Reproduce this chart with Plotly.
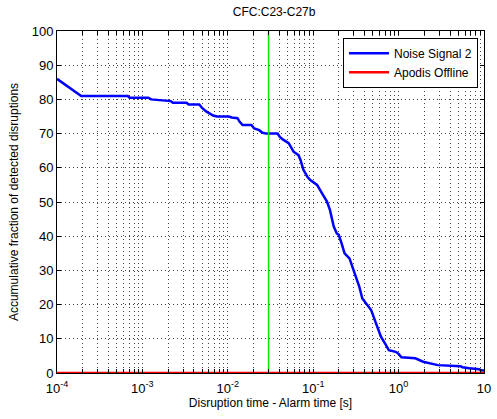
import plotly.graph_objects as go

title_text = "CFC:C23-C27b"
x_label = "Disruption time - Alarm time [s]"
y_label = "Accumulative fraction of detected disruptions"

noise_x = [1e-4, 1.92e-4, 6.73e-4, 7.1e-4, 1.17e-3, 1.27e-3, 2.15e-3, 2.27e-3, 3.29e-3, 3.47e-3,
           4.64e-3, 5.0e-3, 5.58e-3, 6.05e-3, 6.73e-3, 7.48e-3, 1.03e-2, 1.11e-2, 1.30e-2, 1.37e-2,
           1.49e-2, 1.89e-2, 2.04e-2, 2.33e-2, 2.52e-2, 2.8e-2, 3.83e-2, 4.07e-2, 4.4e-2, 5.16e-2,
           5.89e-2, 6.73e-2, 7.1e-2, 7.68e-2, 8.54e-2, 9.24e-2, 0.1, 0.111, 0.127, 0.145,
           0.157, 0.174, 0.189, 0.199, 0.215, 0.233, 0.266, 0.304, 0.347, 0.376,
           0.429, 0.477, 0.544, 0.621, 0.709, 0.768, 0.924, 1.0, 1.08, 1.57,
           1.94, 2.88, 5.3, 5.58, 6.73, 8.77, 9.5, 10]
noise_y = [86, 81, 81, 80.5, 80.5, 80, 79.5, 79, 79, 78.5,
           78.5, 77.5, 76.5, 76, 75.3, 75, 75, 74.7, 74.5, 73.5,
           72.5, 72.5, 71.5, 71, 70.3, 70, 70, 69, 68.3, 67.2,
           64.7, 63.7, 62.3, 59.4, 57.4, 56.4, 55.8, 55, 52.5, 50.1,
           47.7, 42.8, 40.8, 40.4, 37.9, 35, 33.5, 29.6, 25.2, 21.8,
           19.9, 18.4, 14.5, 10.6, 8.2, 6.7, 6.2, 5.6, 4.6, 4.3,
           3.3, 2.3, 2.0, 1.7, 1.4, 1.1, 0.7, 0.7]

apodis_x = [1e-4, 10]
apodis_y = [0, 0]

threshold_x = 0.03
y_ticks = [0, 10, 20, 30, 40, 50, 60, 70, 80, 90, 100]
x_major = [1e-4, 1e-3, 1e-2, 1e-1, 1, 10]
x_major_text = ["10<sup>-4</sup>", "10<sup>-3</sup>", "10<sup>-2</sup>", "10<sup>-1</sup>", "10<sup>0</sup>", "10"]

# all decade ticks (major + minor) for the log grid
x_ticks = []
x_text = []
for i, m in enumerate(x_major[:-1]):
    for k in range(1, 10):
        x_ticks.append(m * k)
        x_text.append(x_major_text[i] if k == 1 else "")
x_ticks.append(x_major[-1] * 0.9999)
x_text.append(x_major_text[-1])

fig = go.Figure()
fig.add_trace(go.Scatter(x=noise_x, y=noise_y, mode="lines", name="Noise Signal 2",
                         line=dict(color="#0000ff", width=2.5)))
fig.add_trace(go.Scatter(x=apodis_x, y=apodis_y, mode="lines", name="Apodis Offline",
                         line=dict(color="#ff0000", width=2.5), cliponaxis=False))
fig.add_trace(go.Scatter(x=[threshold_x, threshold_x], y=[0, 100], mode="lines", showlegend=False,
                         line=dict(color="#00ee00", width=1.5)))

font = dict(family="Liberation Sans, Arial, sans-serif", size=12, color="black")
fig.update_layout(
    width=497, height=419,
    margin=dict(l=57, r=6, t=31, b=46),
    paper_bgcolor="white", plot_bgcolor="white",
    font=font,
    title=dict(text=title_text, x=0.5515, xanchor="center", y=0.982, yanchor="top",
               font=dict(size=12)),
    legend=dict(x=0.986, y=0.98, xanchor="right", yanchor="top",
                bgcolor="white", bordercolor="black", borderwidth=1,
                font=dict(size=12), tracegroupgap=0, itemwidth=40),
    showlegend=True,
)
fig.update_xaxes(type="log", range=[-4, 1], tickmode="array", tickvals=x_ticks, ticktext=x_text,
                 ticks="inside", ticklen=4, tickcolor="black", showline=True, linecolor="black",
                 linewidth=1, mirror="ticks", showgrid=True, gridcolor="#444444", griddash="1px,3px",
                 gridwidth=1, zeroline=False, title=dict(text=x_label, standoff=4, font=dict(size=12)),
                 tickfont=dict(size=13), ticklabelstandoff=3, ticklabeloverflow="allow")
fig.update_yaxes(range=[0, 100], tickmode="array", tickvals=y_ticks,
                 ticks="inside", ticklen=4, tickcolor="black", showline=True, linecolor="black",
                 linewidth=1, mirror="ticks", showgrid=True, gridcolor="#444444", griddash="1px,3px",
                 gridwidth=1, zeroline=False, title=dict(text=y_label, standoff=10, font=dict(size=12)),
                 tickfont=dict(size=13))

fig.write_html("out.html")
